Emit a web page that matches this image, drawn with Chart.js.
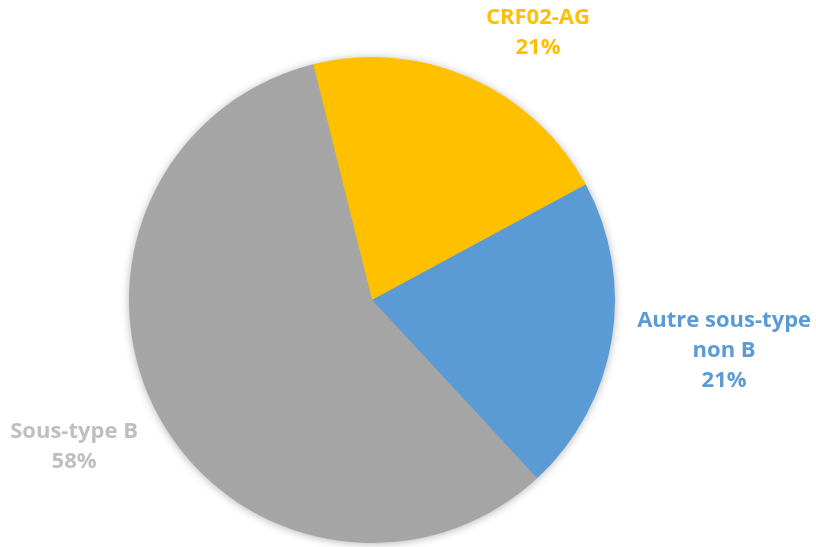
<!DOCTYPE html>
<html><head><meta charset="utf-8">
<script src="https://cdn.jsdelivr.net/npm/chart.js@4"></script>
<style>html,body{margin:0;padding:0;background:#fff}#wrap{width:816px;height:547px}</style>
</head><body><div id="wrap"><canvas id="c" width="816" height="547"></canvas></div>
<script>
const categories = ["CRF02-AG", "Autre sous-type non B", "Sous-type B"];
const values = [21, 21, 58];
const labelLines = [["CRF02-AG"], ["Autre sous-type", "non B"], ["Sous-type B"]];
const colors = ["#FFC000", "#5B9BD5", "#A5A5A5"];
const labelColors = ["#FFC000", "#5B9BD5", "#BFBFBF"];
// label offsets from centre, in units of radius
const labelOffsets = [[0.683, -1.10], [1.449, 0.21], [-1.226, 0.605]];

const shadowPlugin = {
  id: 'shadow',
  beforeDatasetsDraw(chart) {
    const arc = chart.getDatasetMeta(0).data[0];
    if (!arc) return;
    const {x, y, outerRadius} = arc.getProps(['x','y','outerRadius'], true);
    const ctx = chart.ctx;
    ctx.save();
    ctx.shadowColor = 'rgba(0,0,0,0.35)';
    ctx.shadowBlur = 10;
    ctx.shadowOffsetX = 0; ctx.shadowOffsetY = 1;
    ctx.fillStyle = '#A5A5A5';
    ctx.beginPath(); ctx.arc(x, y, outerRadius - 1, 0, Math.PI*2); ctx.fill();
    ctx.restore();
  }
};
const labelPlugin = {
  id: 'outLabels',
  afterDatasetsDraw(chart) {
    const meta = chart.getDatasetMeta(0);
    const ctx = chart.ctx;
    const total = values.reduce((a,b)=>a+b,0);
    ctx.save();
    ctx.font = 'bold 22px "Open Sans"';
    ctx.textAlign = 'center';
    ctx.textBaseline = 'middle';
    meta.data.forEach((arc, i) => {
      const {x, y, outerRadius} = arc.getProps(['x','y','outerRadius'], true);
      const lx = x + labelOffsets[i][0]*outerRadius;
      const ly = y + labelOffsets[i][1]*outerRadius;
      const lines = labelLines[i].concat([Math.round(values[i]/total*100) + '%']);
      const lh = 30;
      const y0 = ly - (lines.length-1)*lh/2;
      ctx.fillStyle = labelColors[i];
      lines.forEach((t, k) => ctx.fillText(t, lx, y0 + k*lh));
    });
    ctx.restore();
  }
};

new Chart(document.getElementById('c'), {
  type: 'pie',
  data: { labels: categories, datasets: [{ data: values, backgroundColor: colors, borderWidth: 0 }] },
  options: {
    responsive: false,
    animation: false,
    rotation: -14,
    layout: { padding: { left: 60, right: 132, top: 57, bottom: 4 } },
    plugins: { legend: { display: false }, tooltip: { enabled: false } }
  },
  plugins: [shadowPlugin, labelPlugin]
});
</script></body></html>
